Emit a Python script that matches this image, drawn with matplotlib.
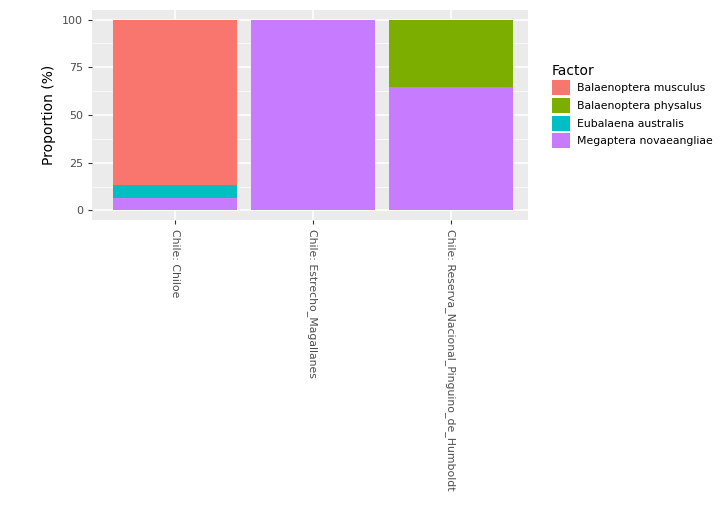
import matplotlib
matplotlib.use("Agg")
import matplotlib.pyplot as plt
from matplotlib.patches import Patch

sites = ["Chile: Chiloe", "Chile: Estrecho_Magallanes", "Chile: Reserva_Nacional_Pinguino_de_Humboldt"]
species = ["Balaenoptera musculus", "Balaenoptera physalus", "Eubalaena australis", "Megaptera novaeangliae"]
colors = ["#F8766D", "#7CAE00", "#00BFC4", "#C77CFF"]
# values per species, per site
musculus = [86.6, 0, 0]
physalus = [0, 0, 35.3]
eubalaena = [6.7, 0, 0]
megaptera = [6.7, 100, 64.7]

fig = plt.figure(figsize=(7.25, 5.14), dpi=100)
ax = fig.add_axes([0.127, 0.572, 0.601, 0.4085])
ax.set_facecolor("#EBEBEB")
x = list(range(len(sites)))
bottom = [0, 0, 0]
for vals, col in [(megaptera, colors[3]), (eubalaena, colors[2]), (physalus, colors[1]), (musculus, colors[0])]:
    ax.bar(x, vals, bottom=bottom, width=0.9, color=col, zorder=3)
    bottom = [b + v for b, v in zip(bottom, vals)]
ax.set_xlim(-0.6, 2.56)
ax.set_ylim(-5, 105)
ax.set_yticks([0, 25, 50, 75, 100])
ax.set_yticks([12.5, 37.5, 62.5, 87.5], minor=True)
ax.grid(True, which="major", color="white", linewidth=1.1, zorder=0)
ax.grid(True, which="minor", axis="y", color="white", linewidth=0.5, zorder=0)
ax.set_xticks(x)
ax.set_xticklabels(sites, rotation=-90, fontsize=7.8, color="#4D4D4D")
ax.tick_params(axis="y", labelsize=8, labelcolor="#4D4D4D", color="#333333", length=3)
ax.tick_params(axis="x", color="#333333", length=3)
ax.tick_params(which="minor", length=0)
for s in ax.spines.values():
    s.set_visible(False)
ax.set_ylabel("Proportion (%)", fontsize=10)
handles = [Patch(facecolor=c, label=s) for c, s in zip(colors, species)]
leg = fig.legend(handles=handles, title="Factor", loc="upper left", bbox_to_anchor=(0.748, 0.895),
                 frameon=False, fontsize=7.8, title_fontsize=10, handlelength=1.7, handleheight=1.75,
                 labelspacing=0.25, handletextpad=0.6, alignment="left")
fig.savefig("out.png", dpi=100)
